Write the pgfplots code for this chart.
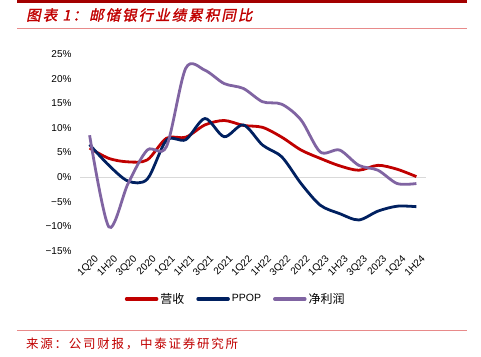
\documentclass[border=0pt]{standalone}
\usepackage{pgfplots}
\pgfplotsset{compat=1.18}
\usepackage{fontspec}
\setmainfont{Liberation Sans}
\newfontfamily\cjk{Noto Sans CJK SC}
\newfontfamily\cjks[LetterSpace=14]{Noto Sans CJK SC}
\newfontfamily\cjkt[FakeSlant=0.2,FakeBold=1.5,LetterSpace=14]{Noto Sans CJK SC}
\definecolor{cred}{HTML}{C00000}
\definecolor{cnavy}{HTML}{002060}
\definecolor{cpurple}{HTML}{8064A2}
\definecolor{cpink}{HTML}{E88A8A}
\begin{document}
\begin{tikzpicture}[x=1pt,y=1pt]
\path[use as bounding box] (0,0) rectangle (481,356);
% header lines
\draw[cred!85!black, line width=2.2pt] (17,354.5) -- (467,354.5);
\draw[cpink, line width=0.7pt] (17,328) -- (467,328);
\node[anchor=west, text=cred, font=\cjkt\fontsize{14.5}{16}\selectfont, inner sep=0] at (26,341) {图表 1：邮储银行业绩累积同比};
% footer
\draw[cpink, line width=0.7pt] (17,26) -- (467,26);
\node[anchor=west, text=cred, font=\cjks\fontsize{12.5}{14}\selectfont, inner sep=0] at (26,12) {来源：公司财报，中泰证券研究所};
\begin{axis}[
  at={(80pt,105pt)}, anchor=south west,
  scale only axis, width=346pt, height=197pt,
  xmin=-0.5, xmax=17.5, ymin=-15, ymax=25,
  axis line style={draw=none},
  major tick length=0pt,
  xtick={0,...,17},
  xticklabels={1Q20,1H20,3Q20,2020,1Q21,1H21,3Q21,2021,1Q22,1H22,3Q22,2022,1Q23,1H23,3Q23,2023,1Q24,1H24},
  xticklabel style={rotate=45, anchor=north east, font=\fontsize{10}{12}\selectfont, xshift=4pt, yshift=-2pt},
  ytick={-15,-10,-5,0,5,10,15,20,25},
  yticklabels={−15\%,−10\%,−5\%,0\%,5\%,10\%,15\%,20\%,25\%},
  yticklabel style={font=\fontsize{10}{12}\selectfont, xshift=-5pt},
  extra y ticks={0}, extra y tick labels={},
  extra y tick style={grid=major, major grid style={draw=black!15, line width=1.2pt}},
  legend style={at={(axis description cs:0.45,-0.2437)}, anchor=center, draw=none, fill=none,
    font=\cjk\fontsize{12}{14}\selectfont, legend columns=3,
    /tikz/every even column/.append style={column sep=10pt}},
  legend image code/.code={\draw[#1, line width=3.5pt, line cap=round] (0pt,0pt) -- (30pt,0pt);},
  clip=false,
]
\addplot[cred, line width=2.8pt, smooth] coordinates {
(0,5.9)(1,3.8)(2,3.1)(3,3.5)(4,7.9)(5,8.1)(6,10.6)(7,11.5)(8,10.5)(9,10.1)(10,8.1)(11,5.5)(12,3.8)(13,2.3)(14,1.4)(15,2.4)(16,1.6)(17,0.1)};
\addlegendentry{营收}
\addplot[cnavy, line width=2.8pt, smooth] coordinates {
(0,6.6)(1,2.4)(2,-0.8)(3,-0.4)(4,7.5)(5,7.6)(6,11.9)(7,8.2)(8,10.6)(9,6.5)(10,4.1)(11,-1.3)(12,-5.7)(13,-7.4)(14,-8.7)(15,-6.9)(16,-5.9)(17,-6.0)};
\addlegendentry{\fontspec{Liberation Sans}\fontsize{10.5}{12}\selectfont PPOP}
\addplot[cpurple, line width=2.8pt, smooth] coordinates {
(0,8.5)(1,-10.1)(2,-1.3)(3,5.5)(4,6.2)(5,22.1)(6,21.7)(7,19.0)(8,18.0)(9,15.3)(10,14.8)(11,11.6)(12,5.1)(13,5.5)(14,2.4)(15,1.4)(16,-1.3)(17,-1.3)};
\addlegendentry{净利润}
\end{axis}
\end{tikzpicture}
\end{document}
